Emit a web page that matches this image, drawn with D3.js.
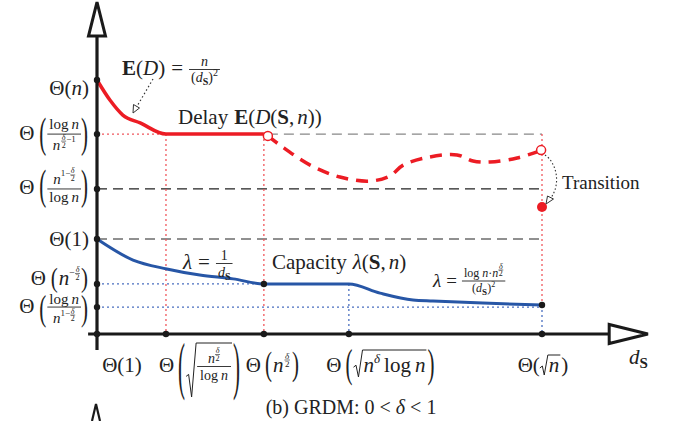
<!DOCTYPE html>
<html>
<head>
<meta charset="utf-8">
<script src="https://cdn.jsdelivr.net/npm/d3@7"></script>
<style>
  body { margin: 0; background: #fff; }
  svg { display: block; font-family: "Liberation Serif", "DejaVu Serif", serif; }
  svg text { font-family: "Liberation Serif", "DejaVu Serif", serif; }
</style>
</head>
<body>
<div id="chart"></div>
<script>
// Canvas
const width = 685;
const height = 421;
const RED = "#ec1c24";
const BLUE = "#2756a6";

// ---- data (abstract units: d_S on x, order of magnitude on y) ----
const xTicks = [0, 15.5, 37.5, 56.6, 100];
const yTicks = [100, 78.7, 57.1, 37.4, 19.7, 10.6];

// delay: decays as n/(d_S)^2, then flat
const delaySolid = [[0, 100], [2.9, 92.1], [5.8, 86.2], [9.7, 83.1], [15.5, 78.7], [37.5, 78.7]];
// delay: uncertain (dashed) region
const delayDashed = [[38.4, 78.0], [41.1, 74.4], [47.9, 66.5], [54.6, 61.8], [61.3, 60.2], [65.8, 62.2],
  [68.8, 66.5], [74.8, 69.7], [80.9, 70.5], [84.5, 68.1], [88.3, 67.7], [94.4, 69.3], [98.9, 71.7]];
const delayOpen = [[38.4, 78.0], [99.8, 72.4]];
const delayTransition = [100, 50];

// capacity
const capacity = [[0, 37.4], [8.1, 29.1], [15.7, 25.6], [23.1, 23.2], [30.6, 21.7], [37.5, 19.7],
  [56.6, 19.7], [63.6, 16.1], [71.0, 13.4], [75.5, 13.0], [86.7, 12.2], [100, 11.4]];
const capacityDots = [[37.5, 19.7], [100, 11.4]];

// guide lines: [fixed, from, to]
const redDottedH = [[78.7, 0, 15.5]];
const redDottedV = [[15.5, 78.7, 0], [37.5, 78.7, 0], [100, 78.7, 11.4]];
const blueDottedH = [[19.7, 0, 37.5], [10.6, 0, 100]];
const blueDottedV = [[56.6, 19.7, 0], [100, 11.4, 0]];
const greyDashedH = [[78.7, 38.4, 100]];
const blackDashedH = [[57.1, 0, 100], [37.4, 0, 100]];

// ---- math-label building blocks ----
const s = (t, o = {}) => ({ s: t, ...o });
const it = (t, o = {}) => ({ s: t, i: 1, ...o });
const sp = w => ({ sp: w });
const P = (ch, h, off = 0) => ({ paren: ch, h, off });
const F = (num, den, o = {}) => ({ frac: 1, num, den, ...o });
const R = (body, up, down, rw) => ({ sqrt: body, up, down, rw });
const half = (dy, sz = 8) => F([it("δ", { size: sz })], [s("2", { size: sz })],
  { axis: 0, nGap: 1.5, dGap: sz * 0.8, pad: 0.5, lw: 0.6, dy });
const logn = sz => [s("log", { size: sz }), sp(3), it("n", { size: sz })];
const dS = (sz, sub) => [it("d", { size: sz }), s("S", { size: sub, b: 1, dy: sz * 0.22 })];

const yTickLabels = [
  [s("Θ"), s("("), it("n"), s(")")],
  [s("Θ"), sp(5), P("(", 36, 2), F(logn(15), [it("n", { size: 15 }), sp(1), half(-9), s("−1", { size: 9, dy: -8 })],
    { axis: 5.5, nGap: 5, dGap: 16 }), P(")", 36, 2)],
  [s("Θ"), sp(5), P("(", 36, -1), F([it("n", { size: 15 }), s("1−", { size: 9, dy: -8 }), half(-9)], logn(15),
    { axis: 5.5, nGap: 5, dGap: 13 }), P(")", 36, -1)],
  [s("Θ"), s("("), s("1"), s(")")],
  [s("Θ"), sp(5), P("(", 24), it("n"), s("−", { size: 10, dy: -9 }), half(-12), sp(1), P(")", 24)],
  [s("Θ"), sp(5), P("(", 32, 3), F(logn(15), [it("n", { size: 15 }), s("1−", { size: 9, dy: -7 }), half(-8)],
    { axis: 5.5, nGap: 3.5, dGap: 16 }), P(")", 32, 3)]
];
const yLabelDy = [15, 5.5, 5.5, 7, 1.5, 5.5];

const xTickLabels = [
  [s("Θ"), s("("), s("1"), s(")")],
  [s("Θ"), sp(4), P("(", 56, 4), R([F([it("n", { size: 14 }), half(-8)], logn(14),
    { axis: 5.5, nGap: 4, dGap: 13, pad: 3 })], 29, 25, 10), P(")", 56, 4)],
  [s("Θ"), sp(4), P("(", 30), it("n"), sp(1), half(-12, 9), sp(2), P(")", 30)],
  [s("Θ"), sp(4), P("(", 34), R([it("n"), it("δ", { size: 13, dy: -9 }), sp(4), s("log"), sp(4), it("n")], 22, 5, 9), P(")", 34)],
  [s("Θ"), s("("), R([it("n")], 17, 3, 8), s(")")]
];
const xLabelDx = [25, 34, 9, 32, 1];

// ---- setup ----
const svg = d3.select("#chart")
  .append("svg")
  .attr("width", width)
  .attr("height", height);

const x = d3.scaleLinear().domain([0, 100]).range([97, 542]);
const y = d3.scaleLinear().domain([0, 100]).range([334, 80]);

function render(g, items, yb, size) {
  let cx = 0;
  items.forEach(d => {
    const sz = d.size || size;
    if (d.sp !== undefined) { cx += d.sp; return; }
    if (d.s !== undefined) {
      const t = g.append("text").attr("x", cx).attr("y", yb + (d.dy || 0))
        .style("font-size", sz + "px")
        .style("font-style", d.i ? "italic" : "normal")
        .style("font-weight", d.b ? "bold" : "normal")
        .text(d.s);
      cx += t.node().getComputedTextLength();
      return;
    }
    if (d.paren) {
      const sy = d.h / (0.87 * sz);
      const cy = yb - 0.259 * sz + (d.off || 0);
      const t = g.append("text").style("font-size", sz + "px").style("font-weight", "300")
        .attr("transform", `translate(${cx},${cy + 0.259 * sz * sy}) scale(1,${sy})`)
        .text(d.paren);
      cx += t.node().getComputedTextLength() + 1;
      return;
    }
    if (d.frac) {
      const fs = d.fs || Math.round(sz * 0.7);
      const gn = g.append("g"), gd = g.append("g");
      const wn = render(gn, d.num, 0, fs), wd = render(gd, d.den, 0, fs);
      const pad = d.pad ?? 2;
      const W = Math.max(wn, wd) + 2 * pad;
      const ay = yb + (d.dy || 0) - (d.axis ?? sz * 0.26);
      g.append("line").attr("x1", cx).attr("x2", cx + W).attr("y1", ay).attr("y2", ay)
        .attr("stroke", "#222").attr("stroke-width", d.lw || 0.9);
      gn.attr("transform", `translate(${cx + (W - wn) / 2},${ay - (d.nGap ?? fs * 0.3)})`);
      gd.attr("transform", `translate(${cx + (W - wd) / 2},${ay + (d.dGap ?? fs * 0.85)})`);
      cx += W;
      return;
    }
    if (d.sqrt) {
      const gb = g.append("g");
      const wb = render(gb, d.sqrt, 0, sz);
      const top = yb - d.up, bot = yb + d.down;
      const rw = d.rw || 9;
      const mid = bot - (bot - top) * 0.4;
      g.append("path")
        .attr("d", `M${cx},${mid + 1}L${cx + 2.5},${mid - 1}L${cx + rw * 0.55},${bot}L${cx + rw},${top}H${cx + rw + wb + 2}`)
        .attr("fill", "none").attr("stroke", "#222").attr("stroke-width", 1);
      gb.attr("transform", `translate(${cx + rw + 1},${yb})`);
      cx += rw + wb + 3;
    }
  });
  return cx;
}

function place(items, px, py, anchor, size) {
  const g = svg.append("g").attr("fill", "#222");
  const w = render(g, items, 0, size);
  const x0 = anchor === "end" ? px - w : anchor === "middle" ? px - w / 2 : px;
  g.attr("transform", `translate(${x0},${py})`);
  return w;
}

// ---- guide lines ----
function hLines(rows, color, dash, sw) {
  svg.append("g").selectAll("line").data(rows).join("line")
    .attr("x1", d => x(d[1])).attr("x2", d => x(d[2]))
    .attr("y1", d => y(d[0])).attr("y2", d => y(d[0]))
    .attr("stroke", color).attr("stroke-width", sw).attr("stroke-dasharray", dash);
}
function vLines(rows, color, dash, sw) {
  svg.append("g").selectAll("line").data(rows).join("line")
    .attr("x1", d => x(d[0])).attr("x2", d => x(d[0]))
    .attr("y1", d => y(d[1])).attr("y2", d => y(d[2]))
    .attr("stroke", color).attr("stroke-width", sw).attr("stroke-dasharray", dash);
}
hLines(greyDashedH, "#888", "10,6", 1.4);
hLines(blackDashedH, "#222", "10,6", 1.2);
hLines(redDottedH, "#f0565c", "2,3", 1.3);
vLines(redDottedV, "#f0565c", "2,3", 1.3);
hLines(blueDottedH, "#4a6fc0", "2,3", 1.3);
vLines(blueDottedV, "#4a6fc0", "2,3", 1.3);

// ---- curves ----
const line = d3.line().x(d => x(d[0])).y(d => y(d[1]));
svg.append("path").datum(delaySolid)
  .attr("d", line.curve(d3.curveMonotoneX))
  .attr("fill", "none").attr("stroke", RED).attr("stroke-width", 3.5);
svg.append("path").datum(delayDashed)
  .attr("d", line.curve(d3.curveCatmullRom))
  .attr("fill", "none").attr("stroke", RED).attr("stroke-width", 3.5)
  .attr("stroke-dasharray", "12,8");
svg.append("path").datum(capacity)
  .attr("d", line.curve(d3.curveMonotoneX))
  .attr("fill", "none").attr("stroke", BLUE).attr("stroke-width", 3);

svg.append("g").selectAll("circle").data(delayOpen).join("circle")
  .attr("cx", d => x(d[0])).attr("cy", d => y(d[1])).attr("r", 4.5)
  .attr("fill", "#fff").attr("stroke", RED).attr("stroke-width", 1.5);
svg.append("circle").attr("cx", x(delayTransition[0])).attr("cy", y(delayTransition[1]))
  .attr("r", 5).attr("fill", RED);

// ---- axes ----
svg.append("line").attr("x1", x(0)).attr("x2", x(0)).attr("y1", y(-6.3)).attr("y2", y(117.3))
  .attr("stroke", "#1a1a1a").attr("stroke-width", 3.2);
svg.append("line").attr("x1", x(-2)).attr("x2", x(115.1)).attr("y1", y(0)).attr("y2", y(0))
  .attr("stroke", "#1a1a1a").attr("stroke-width", 3);
svg.append("path")
  .attr("d", `M${x(0)},${y(130.7)}L${x(0) + 8.5},${y(117.3)}L${x(0) - 8.5},${y(117.3)}Z`)
  .attr("fill", "#fff").attr("stroke", "#1a1a1a").attr("stroke-width", 3).attr("stroke-linejoin", "miter");
svg.append("path")
  .attr("d", `M${x(123.8)},${y(0)}L${x(115.1)},${y(0) - 9.5}L${x(115.1)},${y(0) + 9.5}Z`)
  .attr("fill", "#fff").attr("stroke", "#1a1a1a").attr("stroke-width", 3).attr("stroke-linejoin", "miter");

// tick dots
svg.append("g").selectAll("circle").data(yTicks).join("circle")
  .attr("cx", x(0)).attr("cy", d => y(d)).attr("r", 3.2).attr("fill", "#1a1a1a");
svg.append("g").selectAll("circle").data(xTicks).join("circle")
  .attr("cx", d => x(d)).attr("cy", y(0)).attr("r", 3.2).attr("fill", "#1a1a1a");
svg.append("g").selectAll("circle").data(capacityDots).join("circle")
  .attr("cx", d => x(d[0])).attr("cy", d => y(d[1])).attr("r", 3.2).attr("fill", "#1a1a1a");

// tick labels
yTicks.forEach((t, i) => place(yTickLabels[i], 89, y(t) + yLabelDy[i], "end", 21));
xTicks.forEach((t, i) => place(xTickLabels[i], x(t) + xLabelDx[i], 372, "middle", 21));
place([it("d"), s("S", { size: 15, b: 1, dy: 4 })], 629, 364, "start", 21);

// ---- annotations ----
place([s("E", { b: 1 }), s("("), it("D"), s(")"), sp(6), s("="), sp(6),
  F([it("n", { size: 14 })], [s("(", { size: 14 }), ...dS(14, 10), s(")", { size: 14 }), s("2", { size: 10, dy: -6 })],
    { axis: 5.5, nGap: 4, dGap: 12 })], 122, 75, "start", 21);

svg.append("line").attr("x1", 153).attr("y1", 79).attr("x2", 136).attr("y2", 108)
  .attr("stroke", "#333").attr("stroke-width", 1.2).attr("stroke-dasharray", "1.5,2.5");
svg.append("path").attr("d", "M133,113L133.5,104.5L139.5,108Z")
  .attr("fill", "#fff").attr("stroke", "#333").attr("stroke-width", 1);

place([s("Delay"), sp(6), s("E", { b: 1 }), s("("), it("D"), s("("), s("S", { b: 1 }), s(","), sp(3), it("n"), s(")"), s(")")],
  178, 124, "start", 21);
place([s("Capacity"), sp(6), it("λ"), s("("), s("S", { b: 1 }), s(","), sp(3), it("n"), s(")")],
  272, 269, "start", 21);
place([it("λ"), sp(6), s("="), sp(6), F([s("1", { size: 14 })], dS(14, 10), { axis: 5.5, nGap: 4, dGap: 13 })],
  183, 269, "start", 21);
place([it("λ"), sp(5), s("="), sp(5),
  F([...logn(12), s("·", { size: 12 }), it("n", { size: 12 }), half(-7, 8)],
    [s("(", { size: 12 }), ...dS(12, 9), s(")", { size: 12 }), s("2", { size: 8, dy: -5 })],
    { axis: 6, nGap: 4, dGap: 11 })], 433, 287, "start", 19);

// transition
svg.append("path").attr("d", "M545,155C556,162 562,184 550,199")
  .attr("fill", "none").attr("stroke", "#333").attr("stroke-width", 1.1).attr("stroke-dasharray", "1.5,2.2");
svg.append("path").attr("d", "M546,204L547.5,196L553.5,199Z")
  .attr("fill", "#fff").attr("stroke", "#333").attr("stroke-width", 1);
place([s("Transition")], 562, 189, "start", 19);

// caption
place([s("(b) GRDM:"), sp(5), s("0"), sp(5), s("<"), sp(5), it("δ"), sp(5), s("<"), sp(5), s("1")],
  351, 414, "middle", 20);

// edge of the next panel's axis arrow
svg.append("path").attr("d", "M92,421L96,404L100,421")
  .attr("fill", "none").attr("stroke", "#1a1a1a").attr("stroke-width", 2.2);
</script>
</body>
</html>
